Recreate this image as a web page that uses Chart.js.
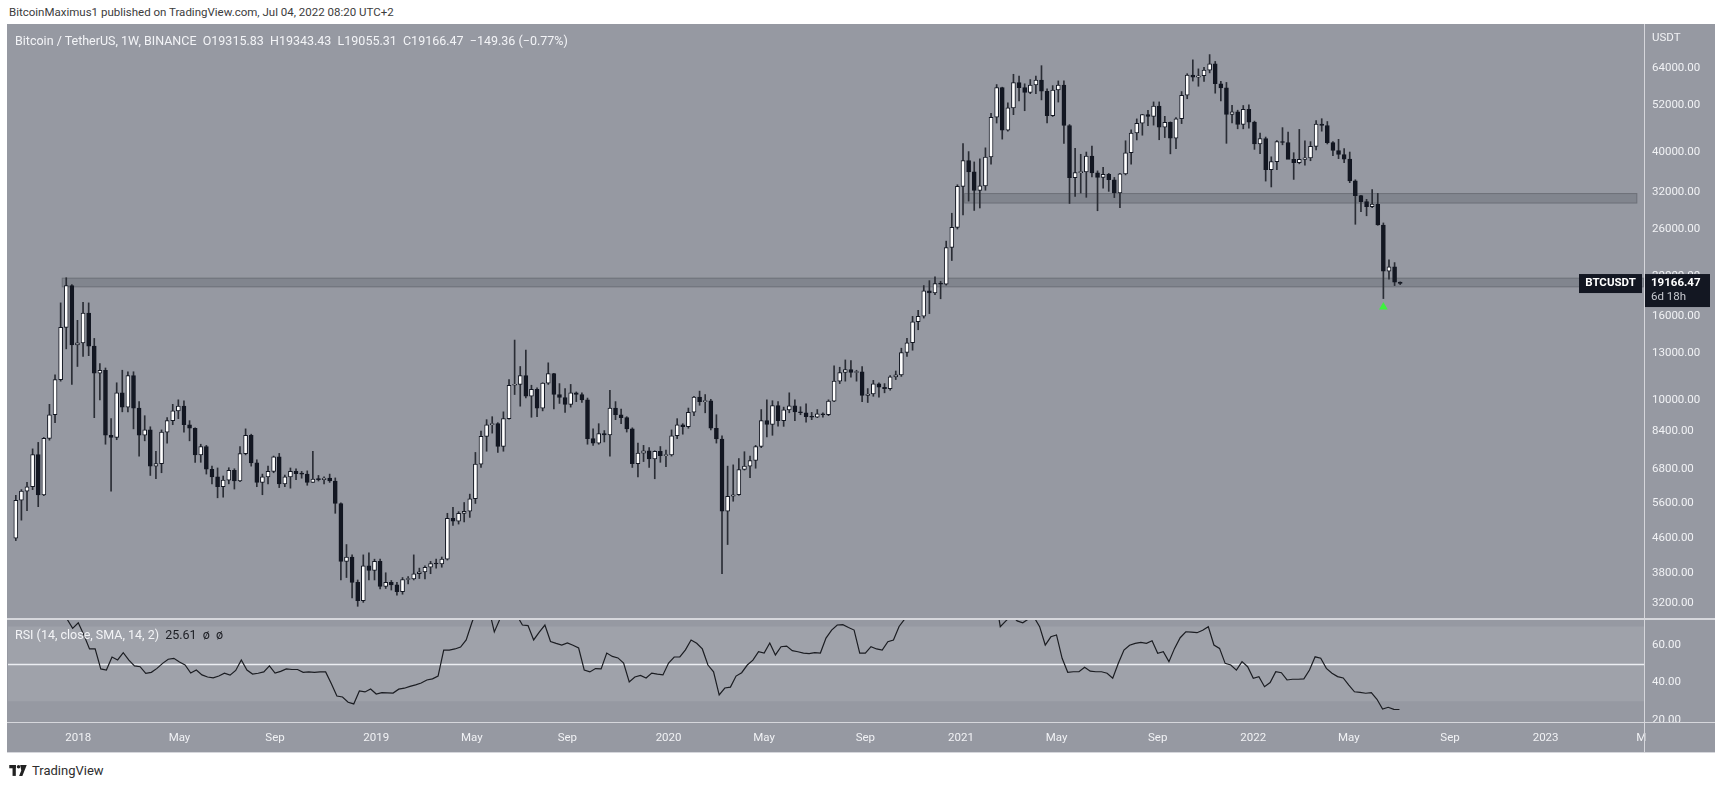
<!DOCTYPE html>
<html>
<head>
<meta charset="utf-8">
<script src="https://cdn.jsdelivr.net/npm/chart.js@4.4.0/dist/chart.umd.min.js"></script>
<style>
  body { margin: 0; width: 1722px; height: 785px; background: #fff; overflow: hidden; font-family: Roboto, "Noto Sans", sans-serif; }
  #hdr { position: absolute; left: 9px; top: 5px; font-size: 11.5px; color: #3c3c3c; }
  #panel { position: absolute; left: 7px; top: 24px; width: 1708px; height: 728px; background: #9699a2; }
  #price { position: absolute; left: 8px; top: 24px; }
  #rsi { position: absolute; left: 8px; top: 620px; }
  .ln { position: absolute; background: #d6d7dc; }
  #title { position: absolute; left: 15px; top: 33px; font-size: 12.5px; color: #f3f4f7; white-space: pre; }
  #rsiLbl { position: absolute; left: 15px; top: 627px; font-size: 12.5px; color: #f3f4f7; white-space: pre; }
  #rsiLbl span { color: #1c1e24; }
  #foot { position: absolute; left: 9px; top: 763px; font-size: 13px; color: #2e2e2e; display: flex; align-items: center; gap: 5px; }
</style>
</head>
<body>
<div id="hdr">BitcoinMaximus1 published on TradingView.com, Jul 04, 2022 08:20 UTC+2</div>
<div id="panel"></div>
<canvas id="price" width="1707" height="594"></canvas>
<canvas id="rsi" width="1707" height="132"></canvas>
<div class="ln" style="left:1644px;top:24px;width:1px;height:728px"></div>
<div class="ln" style="left:7px;top:618px;width:1708px;height:2px"></div>
<div class="ln" style="left:7px;top:722px;width:1708px;height:1px"></div>
<div class="ln" style="left:7px;top:752px;width:1708px;height:1px"></div>
<div id="title">Bitcoin / TetherUS, 1W, BINANCE  O19315.83  H19343.43  L19055.31  C19166.47  −149.36 (−0.77%)</div>
<div id="rsiLbl">RSI (14, close, SMA, 14, 2)  <span>25.61  ø  ø</span></div>
<div id="foot">
  <svg width="18" height="12" viewBox="0 0 16 11"><rect x="0" y="0" width="6" height="3" fill="#222"/><rect x="3" y="0" width="3" height="10" fill="#222"/><circle cx="8.5" cy="1.6" r="1.6" fill="#222"/><polygon points="10,0 16,0 12,10 9,10 11,5" fill="#222"/></svg>
  <span>TradingView</span>
</div>
<script>
// weekly candles [open, high, low, close], Binance BTCUSDT
const y2017 = [
  [4610,5860,4550,5700],[5700,6050,5100,6000],[6000,6300,5380,6150],[6150,7600,6050,7360],
  [7360,7880,5500,5870],[5870,8100,5850,8060],[8060,9750,7980,9200],[9200,11500,8800,11200],
  [11200,17200,11100,15000],[15000,19800,13300,18950],[18950,19050,10900,13600],[13600,15600,12050,13750]
];
const y2018 = [
  [13750,17250,12750,16250],[16250,17200,12800,13500],[13500,14100,9050,11600],[11600,12250,10000,11800],
  [11800,11950,7800,8200],[8200,9000,6000,8100],[8100,11000,8000,10400],[10400,11800,9350,9600],
  [9600,11700,9350,11450],[11450,11700,8500,9550],[9550,9900,7300,8200],[8200,9150,7950,8450],
  [8450,8600,6550,6900],[6900,7500,6430,7000],[7000,8450,6650,8350],[8350,9050,7850,8900],
  [8900,9750,8700,9400],[9400,10000,9000,9650],[9650,9950,8350,8700],[8700,8900,7950,8530],
  [8530,8550,7050,7350],[7350,7800,7050,7700],[7700,7750,6600,6780],[6780,6900,6250,6500],
  [6500,6830,5780,6150],[6150,6530,5800,6380],[6380,6840,6250,6740],[6740,6800,6070,6350],
  [6350,7700,6330,7400],[7400,8500,7350,8200],[8200,8250,6900,7030],[7030,7150,6150,6300],
  [6300,6600,5880,6500],[6500,6900,6250,6700],[6700,7300,6650,7270],[7270,7410,6120,6250],
  [6250,6560,6150,6500],[6500,6830,6100,6700],[6700,6800,6400,6620],[6620,6700,6450,6600],
  [6600,6720,6200,6300],[6300,7500,6300,6420],[6420,6550,6350,6400],[6400,6500,6250,6450],
  [6450,6600,6300,6350],[6350,6460,5300,5600],[5600,5620,3650,4050],[4050,4450,3700,4150],
  [4150,4200,3300,3600],[3600,3650,3150,3250],[3250,4200,3220,3950],[3950,4250,3650,3850],
  [3850,4100,3650,4050]
];
const y2019 = [
  [4050,4100,3470,3520],[3520,3800,3480,3600],[3600,3640,3450,3550],[3550,3600,3350,3420],
  [3420,3700,3370,3660],[3660,3720,3570,3670],[3670,4200,3650,3780],[3780,3900,3680,3820],
  [3820,3950,3670,3920],[3920,4050,3780,4000],[4000,4100,3900,3990],[3990,4150,3920,4100],
  [4100,5300,4080,5150],[5150,5480,4950,5070],[5070,5350,4990,5300],[5300,5630,5050,5360],
  [5360,5900,5180,5750],[5750,7450,5600,6980],[6980,8400,6850,8150],[8150,8950,7500,8700],
  [8700,9100,8300,8750],[8750,8800,7450,7700],[7700,9350,7500,9000],[9000,11200,8980,10850],
  [10850,13970,10300,10900],[10900,12050,9650,11450],[11450,13200,10100,10200],[10200,10850,9070,10600],
  [10600,10700,9100,9550],[9550,11000,9400,10980],[10980,12300,10900,11580],[11580,11600,9500,10300],
  [10300,10950,9800,10130],[10130,10650,9320,9750],[9750,10900,9600,10400],[10400,10450,9900,10300],
  [10300,10400,9850,10000],[10000,10100,7800,8050],[8050,8500,7750,7850],[7850,8750,7800,8280],
  [8280,8420,7900,8220],[8220,10540,7300,9550],[9550,9900,8950,9200],[9200,9500,8750,9050],
  [9050,9100,8350,8500],[8500,8550,6850,7000],[7000,7850,6500,7420],[7420,7750,7080,7520],
  [7520,7650,6850,7180],[7180,7520,6430,7500],[7500,7700,7050,7320],[7320,7550,6880,7350]
];
const y2020 = [
  [7350,8450,7300,8180],[8180,9000,8050,8700],[8700,8750,8250,8600],[8600,9550,8530,9330],
  [9330,10200,9150,10150],[10150,10500,9700,9900],[9900,10300,9300,9950],[9950,10030,8450,8530],
  [8530,9200,7850,8030],[8030,8180,3780,5360],[5360,6900,4450,5830],[5830,6950,5670,5880],
  [5880,7200,5860,6770],[6770,7480,6750,6900],[6900,7300,6470,7120],[7120,7750,6820,7700],
  [7700,9470,7650,8900],[8900,10000,8120,8720],[8720,9950,8200,9680],[9680,9900,8630,8900],
  [8900,9600,8620,9450],[9450,10400,9300,9670],[9670,10000,8900,9350],[9350,9620,9200,9300],
  [9300,9780,8830,9100],[9100,9320,8950,9070],[9070,9470,9050,9250],[9250,9300,9080,9200],
  [9200,10000,9150,9930],[9930,12100,9900,11100],[11100,12000,10950,11650],[11650,12500,11100,11850],
  [11850,12450,11350,11650],[11650,11800,11100,11700],[11700,12050,9900,10250],[10250,10650,9850,10330],
  [10330,11150,10200,10930],[10930,11000,10150,10730],[10730,10950,10400,10650],[10650,11450,10550,11370],
  [11370,11750,11200,11500],[11500,13350,11400,13030],[13030,14100,12750,13760],[13760,15950,13200,15480],
  [15480,16500,14800,15960],[15960,18950,15800,18400],[18400,19480,16200,18180],[18180,19900,18000,19150],
  [19150,19400,17600,19100],[19100,24300,19000,23450],[23450,28400,21800,26250],[26250,33300,26000,33000]
];
const y2021 = [
  [33000,41950,28150,38150],[38150,40100,30400,35800],[35800,37850,28850,32260],[32260,38500,29250,33100],
  [33100,40950,32300,38900],[38900,49700,37400,48600],[48600,58350,47050,57400],[57400,57500,43000,45200],
  [45200,52650,44950,51200],[51200,61800,49300,59000],[59000,61200,53250,57350],[57350,58600,50400,55800],
  [55800,60000,55450,58200],[58200,61200,55450,59800],[59800,64850,53550,56200],[56200,57000,47050,49050],
  [49050,58000,48800,56600],[56600,59550,52900,58200],[58200,59600,42000,46400],[46400,46650,30000,34650],
  [34650,40850,31200,35650],[35650,39500,31800,35800],[35800,40000,31050,39100],[39100,41350,34800,35600],
  [35600,36000,28800,34700],[34700,36700,32700,35300],[35300,35500,32100,34250],[34250,34700,31000,31800],
  [31800,35500,29300,35400],[35400,42600,35200,39850],[39850,45300,37350,44500],[44500,48150,42800,47000],
  [47000,49400,43950,49300],[49300,50500,46350,48800],[48800,52950,46500,51750],[51750,52950,42850,46000],
  [46000,48850,43370,47250],[47250,47350,39600,43200],[43200,48500,40750,48200],[48200,56100,46900,54950],
  [54950,62000,53900,61500],[61500,67000,59500,60850],[60850,63700,57800,61300],[61300,64270,59400,63250],
  [63250,69000,62300,65500],[65500,66400,55600,58600],[58600,59400,53250,57300],[57300,59050,42000,49400],
  [49400,51950,47100,50100],[50100,50550,45550,46700],[46700,51900,45550,50800],[50800,52100,45700,47300]
];
const y2022 = [
  [47300,47550,40600,41850],[41850,44450,39650,43100],[43100,43500,34000,36250],[36250,38950,32900,37900],
  [37900,42650,36250,42400],[42400,45850,41650,42200],[42200,44750,39450,38400],[38400,39850,34320,37700],
  [37700,45400,37450,38400],[38400,42600,37150,38700],[38700,42400,38100,41300],[41300,47700,40500,46800],
  [46800,48200,44950,46400],[46400,47450,41850,42150],[42150,42400,39200,40350],[40350,42950,38550,39450],
  [39450,40800,37700,38450],[38450,40000,33700,34050],[34050,34250,26700,31350],[31350,31400,28650,30300],
  [30300,30700,28000,29450],[29450,32400,29300,29900],[29900,31750,26550,26600],[26600,26900,17620,20550],
  [20550,21900,19650,21050],[21050,21550,18950,19320],[19315.83,19343.43,19055.31,19166.47]
];

// RSI(14) weekly, one value per candle
const rsiValues = [
  78,80,82,86,76,83,86,89,91,92,
  74,69,72,65.5,58,58,47.3,46.7,53.7,52.1,
  56,52,48.9,48.5,44.9,45.5,47.6,50.3,52.5,53,
  51,49.4,45.1,46.7,44.1,43,42.5,43.5,45,44,
  46.5,52.1,46.7,44.6,45,45.7,48.9,45.1,46,47.3,
  47,47,45.5,45.7,45.5,45.7,45.7,39.5,32.8,32.3,
  29.5,28.6,35.5,35,36.6,33.9,34.6,34.5,34.4,36.5,
  37,38,38.8,39.8,41.4,42,43.5,57.4,57.4,58,
  59,62.8,72,80,83,80,67.1,74,80,79,
  76,70.8,70.5,62.8,67,70.8,62,61,60.1,61.2,
  60,58.5,46.7,45.7,47.5,47.3,55.8,54,53.2,50.5,
  40.3,43,43.8,42.5,45.1,44.5,44.1,50.5,53.7,53.7,
  57.5,62.8,61,58,49.4,45.8,33.4,37.1,37.6,43.5,
  45.3,49.4,52,56.5,55.8,61.2,54.8,59.2,59.5,57.1,
  56.5,55.8,55.5,56,55.8,63.8,68.1,70.8,71,69.5,
  68.1,55.8,55.8,59.2,58,57.4,61.9,62.8,70,74,
  78,79,84,82,84,83,87,89,91,92,
  86,80,79,82,86,88,69.9,73,76,73,
  72,74,75,69.9,60.1,64.5,65.5,53,45.5,45.8,
  45.8,48.2,46.1,45.8,45.8,45,42.3,50.3,57.4,60,
  61,61.5,61,62.4,55.7,56.5,51.2,58.3,64,67.2,
  67,66.7,68,69.9,60.1,58.3,50.3,49.4,46.7,51.2,
  48.5,42.3,43.2,37.8,40,45.8,45.3,41.4,41.8,41.8,
  42,46.7,53.8,53,47.6,45,43.2,42.5,38.7,35.1,
  34.8,34.3,34.6,31.1,25.9,26.8,25.7,25.61
];

const priceTicks = [3200, 3800, 4600, 5600, 6800, 8400, 10000, 13000, 16000, 20000, 26000, 32000, 40000, 52000, 64000];
const rsiTicks = [20, 40, 60];
const tickText = ['2018','May','Sep','2019','May','Sep','2020','May','Sep','2021','May','Sep','2022','May','Sep','2023','M'];

// grey zones: week index range and price range
const zoneFrom = [8.2, 169.2];
const zoneTo = [290.5, 289.3];
const zoneLow = [18770, 30000];
const zoneHigh = [19800, 31800];

// green signal under the capitulation week
const signalWeek = [244];
const signalPrice = [16800];

const lastClose = 19166.47;

const candles = [].concat(y2017, y2018, y2019, y2020, y2021, y2022);

const weekStart = Date.UTC(2017, 9, 9);
const totalWeeks = 291;
const weekLabels = [];
for (let i = 0; i < totalWeeks; i++) {
  weekLabels.push(new Date(weekStart + i * 7 * 86400000).toISOString().slice(0, 10));
}
const tickIdx = [];
weekLabels.forEach((s, i) => {
  const d = new Date(s + 'T00:00:00Z');
  if (d.getUTCDate() <= 7 && d.getUTCMonth() % 4 === 0) tickIdx.push(i);
});

const signalData = candles.map(() => null);
signalWeek.forEach((w, k) => { signalData[w] = signalPrice[k]; });

const axisFont = { family: 'Roboto', size: 11.5 };
const axisColor = '#f1f2f5';

const zonesPlugin = {
  id: 'zones',
  beforeDatasetsDraw(chart) {
    const { ctx, scales: { x, y } } = chart;
    ctx.save();
    for (let k = 0; k < zoneLow.length; k++) {
      const x1 = x.getPixelForValue(zoneFrom[k]);
      const x2 = x.getPixelForValue(zoneTo[k]);
      const yT = y.getPixelForValue(zoneHigh[k]);
      const yB = y.getPixelForValue(zoneLow[k]);
      ctx.fillStyle = 'rgba(105,108,117,0.45)';
      ctx.fillRect(x1, yT, x2 - x1, yB - yT);
      ctx.strokeStyle = 'rgba(95,98,106,0.55)';
      ctx.lineWidth = 1;
      ctx.strokeRect(x1 + 0.5, yT + 0.5, x2 - x1 - 1, yB - yT - 1);
    }
    ctx.restore();
  },
  afterDraw(chart) {
    const { ctx, scales: { y }, chartArea } = chart;
    const yy = y.getPixelForValue(lastClose);
    ctx.save();
    ctx.font = '11.5px Roboto';
    ctx.fillStyle = axisColor;
    ctx.textBaseline = 'middle';
    ctx.fillText('USDT', chartArea.right + 8, 14);
    ctx.fillStyle = '#131722';
    ctx.fillRect(chartArea.right - 65, yy - 9.5, 63, 19);
    ctx.fillRect(chartArea.right, yy - 9.5, 66, 33);
    ctx.fillStyle = '#ffffff';
    ctx.font = 'bold 11.5px Roboto';
    ctx.textAlign = 'center';
    ctx.fillText('BTCUSDT', chartArea.right - 33.5, yy);
    ctx.textAlign = 'left';
    ctx.fillText(lastClose.toFixed(2), chartArea.right + 7, yy);
    ctx.font = '11.5px Roboto';
    ctx.fillStyle = '#c8cad0';
    ctx.fillText('6d 18h', chartArea.right + 7, yy + 14);
    ctx.restore();
  }
};

new Chart(document.getElementById('price'), {
  data: {
    labels: weekLabels,
    datasets: [
      {
        type: 'bar',
        data: candles.map(c => [c[2], c[1]]),
        backgroundColor: '#2a2d35',
        barThickness: 1,
        grouped: false,
        order: 3
      },
      {
        type: 'bar',
        data: candles.map(c => [c[0], c[3]]),
        backgroundColor: candles.map(c => c[3] >= c[0] ? '#ffffff' : '#131722'),
        borderColor: '#131722',
        borderWidth: 1,
        borderSkipped: false,
        barThickness: 4,
        minBarLength: 1,
        grouped: false,
        order: 2
      },
      {
        type: 'line',
        data: signalData,
        showLine: false,
        pointStyle: 'triangle',
        pointRadius: 5,
        pointBackgroundColor: '#3df23d',
        pointBorderWidth: 0,
        order: 1
      }
    ]
  },
  options: {
    responsive: false,
    animation: false,
    events: [],
    layout: { padding: 0 },
    plugins: { legend: { display: false }, tooltip: { enabled: false } },
    scales: {
      x: { type: 'category', offset: true, display: false, grid: { display: false } },
      y: {
        type: 'logarithmic',
        position: 'right',
        bounds: 'data',
        min: 3034,
        max: 79620,
        grid: { display: false, drawTicks: false },
        border: { display: false },
        afterBuildTicks: s => { s.ticks = priceTicks.map(v => ({ value: v })); },
        afterFit: s => { s.width = 71; s.paddingTop = 0; s.paddingBottom = 0; },
        ticks: { color: axisColor, font: axisFont, padding: 8, autoSkip: false, callback: v => Number(v).toFixed(2) }
      }
    }
  },
  plugins: [zonesPlugin]
});

const rsiBandPlugin = {
  id: 'rsiBand',
  beforeDatasetsDraw(chart) {
    const { ctx, chartArea, scales: { y } } = chart;
    ctx.save();
    ctx.fillStyle = 'rgba(255,255,255,0.09)';
    const y70 = y.getPixelForValue(70), y30 = y.getPixelForValue(30);
    ctx.fillRect(chartArea.left, y70, chartArea.right - chartArea.left, y30 - y70);
    ctx.strokeStyle = '#eceef2';
    ctx.lineWidth = 1.5;
    const y50 = Math.round(y.getPixelForValue(50)) + 0.5;
    ctx.beginPath();
    ctx.moveTo(chartArea.left, y50);
    ctx.lineTo(chartArea.right, y50);
    ctx.stroke();
    ctx.restore();
  }
};

new Chart(document.getElementById('rsi'), {
  type: 'line',
  data: {
    labels: weekLabels,
    datasets: [{
      data: rsiValues,
      borderColor: '#1b1d22',
      borderWidth: 1.2,
      pointRadius: 0,
      tension: 0
    }]
  },
  options: {
    responsive: false,
    animation: false,
    events: [],
    layout: { padding: 0 },
    plugins: { legend: { display: false }, tooltip: { enabled: false } },
    scales: {
      x: {
        type: 'category',
        offset: true,
        grid: { display: false, drawTicks: false },
        border: { display: false },
        afterBuildTicks: s => { s.ticks = tickIdx.map(v => ({ value: v })); },
        afterFit: s => { s.height = 30; s.paddingLeft = 0; s.paddingRight = 0; },
        ticks: { autoSkip: false, maxRotation: 0, padding: 9, color: axisColor, font: axisFont,
                 callback: v => tickText[tickIdx.indexOf(v)] }
      },
      y: {
        position: 'right',
        min: 18.93,
        max: 73.48,
        grid: { display: false, drawTicks: false },
        border: { display: false },
        afterBuildTicks: s => { s.ticks = rsiTicks.map(v => ({ value: v })); },
        afterFit: s => { s.width = 71; s.paddingTop = 0; s.paddingBottom = 0; },
        ticks: { color: axisColor, font: axisFont, padding: 8, callback: v => Number(v).toFixed(2) }
      }
    }
  },
  plugins: [rsiBandPlugin]
});
</script>
</body>
</html>
